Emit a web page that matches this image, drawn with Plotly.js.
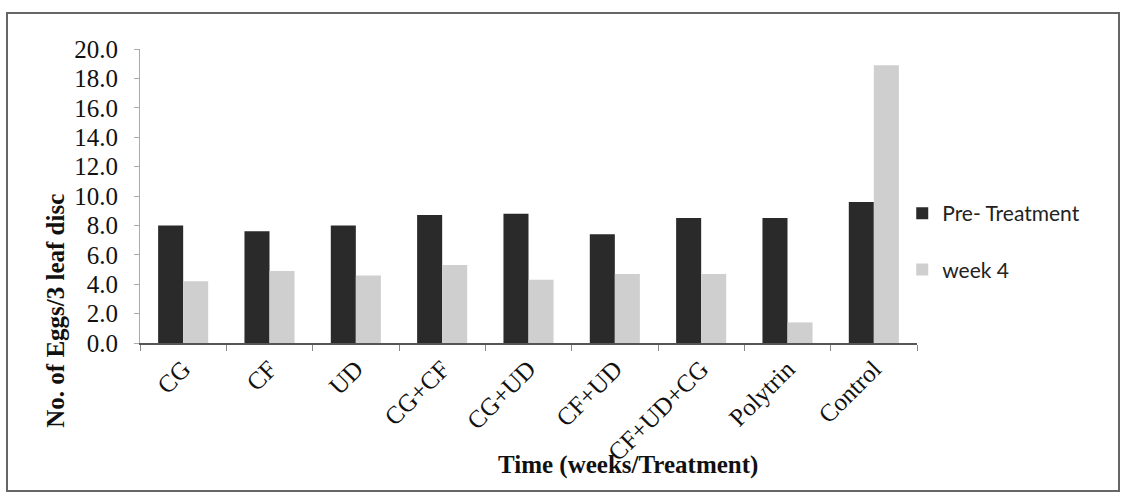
<!DOCTYPE html>
<html>
<head>
<meta charset="utf-8">
<script src="https://cdn.plot.ly/plotly-3.0.1.min.js"></script>
<style>
  html, body { margin: 0; padding: 0; background: #ffffff; }
  #wrap { position: relative; width: 1121px; height: 494px; }
  #chart { width: 1121px; height: 494px; }
  #frame { position: absolute; left: 6px; top: 12px; width: 1110px; height: 476px;
           border: 2px solid #666; pointer-events: none; }
</style>
</head>
<body>
<div id="wrap">
  <div id="chart"></div>
  <div id="frame"></div>
</div>
<script>
const categories = ["CG", "CF", "UD", "CG+CF", "CG+UD", "CF+UD", "CF+UD+CG", "Polytrin", "Control"];
const preTreatment = [8.0, 7.6, 8.0, 8.7, 8.8, 7.4, 8.5, 8.5, 9.6];
const week4 = [4.2, 4.9, 4.6, 5.3, 4.3, 4.7, 4.7, 1.4, 18.9];
const seriesNames = ["Pre- Treatment", "week 4"];
const yTicks = [0, 2, 4, 6, 8, 10, 12, 14, 16, 18, 20];
const yTickText = ["0.0", "2.0", "4.0", "6.0", "8.0", "10.0", "12.0", "14.0", "16.0", "18.0", "20.0"];
const xTitle = "Time (weeks/Treatment)";
const yTitle = "No. of Eggs/3 leaf disc";

const serif = "Liberation Serif, Times New Roman, serif";

const traces = [
  { type: "bar", name: seriesNames[0], x: categories, y: preTreatment,
    marker: { color: "#2a2a2a" }, legendgroup: "a" },
  { type: "bar", name: seriesNames[1], x: categories, y: week4,
    marker: { color: "#cfcfcf" }, legendgroup: "b" }
];

const layout = {
  width: 1121, height: 494,
  paper_bgcolor: "#ffffff", plot_bgcolor: "#ffffff",
  margin: { l: 140, r: 204, t: 49, b: 151 },
  barmode: "group", bargap: 0.42, bargroupgap: 0,
  showlegend: true,
  legend: { x: 0.981, xanchor: "left", y: 0.51, yanchor: "top",
            font: { family: "Lato, Liberation Sans, sans-serif", size: 21, color: "#222" },
            traceorder: "grouped", tracegroupgap: 26, itemwidth: 30, bgcolor: "rgba(0,0,0,0)" },
  xaxis: {
    type: "category", showline: true, linecolor: "#555", linewidth: 1.5,
    ticks: "outside", tickson: "boundaries", ticklen: 6, tickcolor: "#888",
    tickangle: -45, tickfont: { family: serif, size: 25, color: "#111" },
    showgrid: false, zeroline: false
  },
  yaxis: {
    range: [0, 20], tickvals: yTicks, ticktext: yTickText,
    showline: true, linecolor: "#aaa", linewidth: 1,
    ticks: "outside", ticklen: 5, tickcolor: "#aaa",
    tickfont: { family: serif, size: 25, color: "#111" },
    ticklabelstandoff: 11,
    showgrid: false, zeroline: false
  },
  annotations: [
    { text: "<b>" + yTitle + "</b>", xref: "paper", yref: "paper",
      x: -0.108, y: 0.11, textangle: -90, showarrow: false,
      xanchor: "center", yanchor: "middle",
      font: { family: serif, size: 25, color: "#111" } },
    { text: "<b>" + xTitle + "</b>", xref: "paper", yref: "paper",
      x: 0.628, y: -0.415, showarrow: false,
      xanchor: "center", yanchor: "middle",
      font: { family: serif, size: 25, color: "#111" } }
  ]
};

Plotly.newPlot("chart", traces, layout, { displayModeBar: false, staticPlot: true });
</script>
</body>
</html>
